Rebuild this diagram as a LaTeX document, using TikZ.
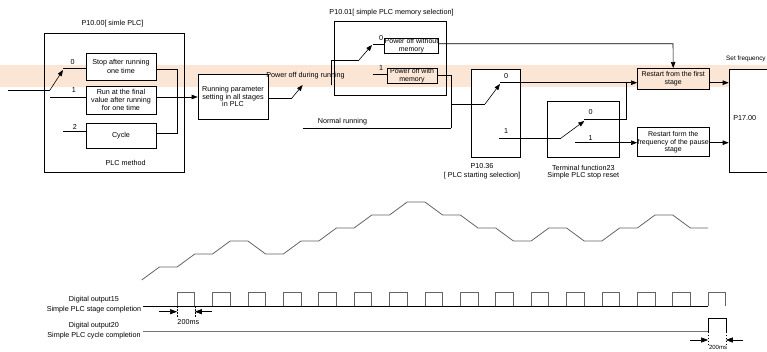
\documentclass[tikz,border=0pt]{standalone}
\usepackage{fontspec}
\setmainfont{Liberation Sans}
\usetikzlibrary{arrows.meta}
\definecolor{band}{RGB}{251,229,213}
\definecolor{wavegray}{RGB}{100,100,100}
\begin{document}
\begin{tikzpicture}[x=1pt,y=-1pt,
  ln/.style={line width=0.6pt},
  arr/.style={ln,-{Triangle[length=6pt,width=4.5pt]}},
  dimarr/.style={ln,-{Triangle[length=7pt,width=5pt]}},
  frame/.style={draw,ln,inner sep=0pt},
  box/.style={draw,ln,fill=white,inner sep=0pt,align=center,font=\fontsize{7.2}{8.2}\selectfont},
  sbox/.style={draw,ln,inner sep=0pt,align=center,font=\fontsize{7.0}{7.4}\selectfont},
  txt/.style={inner sep=0pt,align=center,font=\fontsize{7.2}{8}\selectfont},
  wave/.style={line width=0.8pt,draw=wavegray},
  pulse/.style={line width=0.8pt,draw=wavegray},
  dimline/.style={line width=0.5pt,dashed,dash pattern=on 1.5pt off 1.5pt}
]
\useasboundingbox (0,0) rectangle (767,351);
\fill[band] (0,65) rectangle (767,87);

% ---------- nodes ----------
\node[frame,minimum width=140pt,minimum height=139pt] (plcm) at (114,102.5) {};
\node[txt] (t1000) at (112.5,24) {P10.00[ simle PLC]};
\node[txt] (plcmt) at (125.7,163) {PLC method};
\node[box,minimum width=70pt,minimum height=27pt] (stop) at (121,66.5) {Stop after running\\one time};
\node[box,minimum width=70pt,minimum height=28pt] (runfin) at (121,100) {Run at the final\\value after running\\for one time};
\node[box,minimum width=70pt,minimum height=25pt] (cycle) at (121,135.5) {Cycle};
\node[box,minimum width=70pt,minimum height=45pt,font=\fontsize{7.2}{7.4}\selectfont] (rps) at (233,96.5) {Running parameter\\setting in all stages\\in PLC};
\node[txt] (pdr) at (305.5,75.7) {Power off during running};
\node[frame,minimum width=112pt,minimum height=74pt] (memsel) at (390,58) {};
\node[txt] (t1001) at (391.5,13) {P10.01[ simple PLC memory selection]};
\node[sbox,minimum width=51pt,minimum height=15pt] (pwo) at (411.5,45.5) {Power off without\\memory};
\node[sbox,minimum width=50pt,minimum height=15pt] (pwm) at (412,75.5) {Power off with\\memory};
\node[txt] (nrt) at (342.5,121.7) {Normal running};
\node[box,minimum width=49pt,minimum height=88pt] (p1036) at (495.5,113) {};
\node[txt] (p1036t) at (482,166) {P10.36};
\node[txt] (p1036s) at (482,176) {[ PLC starting selection]};
\node[frame,minimum width=71.7pt,minimum height=56.3pt] (term) at (583.2,129.2) {};
\node[txt] (termt) at (583.3,167.7) {Terminal function23};
\node[txt] (terms) at (583.3,175.7) {Simple PLC stop reset};
\node[sbox,fill=band,minimum width=71.7pt,minimum height=21pt] (rfirst) at (673.2,78.8) {Restart from the first\\stage};
\node[sbox,fill=white,minimum width=71.7pt,minimum height=29pt] (rpause) at (673.2,142.2) {Restart form the\\frequency of the pause\\stage};
\node[frame,fill=white,minimum width=41pt,minimum height=103pt] (p1700) at (749.5,120.5) {};
\node[txt] (p1700t) at (744.7,118) {P17.00};
\node[txt,anchor=west,font=\fontsize{6.4}{7}\selectfont] (sf) at (726,59) {Set frequency};

% switch labels
\node[txt] (l0a) at (72.7,62.3) {0};
\node[txt] (l1a) at (74,90) {1};
\node[txt] (l2a) at (75,127.3) {2};
\node[txt] (l0b) at (381,38.3) {0};
\node[txt] (l1b) at (381,68.3) {1};
\node[txt] (l0c) at (506,76) {0};
\node[txt] (l1c) at (506,131) {1};
\node[txt] (l0d) at (590.7,111.7) {0};
\node[txt] (l1d) at (590.7,137.7) {1};

% ---------- coordinates ----------
\coordinate (inp) at (8,90);
\coordinate (sa) at (50,90);
\coordinate (sa0) at (63,70);
\coordinate (c0) at (63,68);
\coordinate (c1) at (50,97);
\coordinate (c2) at (63,131);
\coordinate (ja) at (177,69);
\coordinate (jb) at (177,133);
\coordinate (jr) at (177,97);
\coordinate (sb) at (291.7,98.3);
\coordinate (sb0) at (302.7,85);
\coordinate (mi) at (331,85);
\coordinate (mj) at (331,60);
\coordinate (sc) at (359,60);
\coordinate (sc0) at (372,45);
\coordinate (m0) at (373,44);
\coordinate (m1) at (373,74);
\coordinate (wo) at (673,43.7);
\coordinate (wm) at (451,75);
\coordinate (wj) at (451,104);
\coordinate (nr0) at (302.7,128.3);
\coordinate (nr1) at (451,128.3);
\coordinate (sd) at (485,104);
\coordinate (sd0) at (500,84);
\coordinate (q0) at (500,82.7);
\coordinate (q1) at (499,138.3);
\coordinate (se) at (560.7,138.3);
\coordinate (se0) at (584.3,121);
\coordinate (t0) at (584.3,119.3);
\coordinate (t0b) at (626,119.3);
\coordinate (t1) at (575,142.7);

% ---------- connectors ----------
\draw[ln] (inp) -- (sa);
\draw[arr] (sa) -- (sa0);
\draw[ln] (c0) -- (c0 -| stop.west);
\draw[ln] (c1) -- (c1 -| runfin.west);
\draw[ln] (c2) -- (c2 -| cycle.west);
\draw[ln] (ja -| stop.east) -- (ja) -- (jb) -- (jb -| cycle.east);
\draw[arr] (jr -| runfin.east) -- (jr -| rps.west);
\draw[ln] (sb -| rps.east) -- (sb);
\draw[arr] (sb) -- (sb0);
\draw[ln] (mi) -- (mj) -- (sc);
\draw[arr] (sc) -- (sc0);
\draw[ln] (m0) -- (m0 -| pwo.west);
\draw[ln] (m1) -- (m1 -| pwm.west);
\draw[arr] (wo -| pwo.east) -- (wo) -- (rfirst.north);
\draw[ln] (wm -| pwm.east) -- (wm) -- (nr1);
\draw[ln] (nr0) -- (nr1);
\draw[ln] (wj) -- (sd);
\draw[arr] (sd) -- (sd0);
\draw[arr] (q0) -- (q0 -| rfirst.west);
\draw[ln] (q1) -- (se);
\draw[arr] (se) -- (se0);
\draw[ln] (t0) -- (t0b) -- (t0b |- q0);
\draw[arr] (t1) -- (t1 -| rpause.west);
\draw[arr] (q0 -| rfirst.east) -- (q0 -| p1700.west);
\draw[arr] (t1 -| rpause.east) -- (t1 -| p1700.west);

% ---------- timing diagram ----------
\draw[wave] (141.7,280) -- (159.4,267) -- (177.1,267) -- (194.8,254) -- (212.5,254)
  -- (230.2,241) -- (247.9,241) -- (265.6,254) -- (283.3,254) -- (301.0,241)
  -- (318.7,241) -- (336.4,228) -- (354.1,228) -- (371.8,215) -- (389.5,215)
  -- (407.2,202) -- (424.9,202) -- (442.6,215) -- (460.3,215) -- (478.0,228)
  -- (495.7,228) -- (513.4,241) -- (531.1,241) -- (548.8,228) -- (566.5,228)
  -- (584.2,241) -- (601.9,241) -- (619.6,228) -- (637.3,228) -- (655.0,215)
  -- (672.7,215) -- (690.4,228) -- (708.1,228);

\node[txt] (do15) at (94,299.3) {Digital output15};
\node[txt] (do15b) at (94,310) {Simple PLC stage completion};
\node[txt] (do20) at (94,325.7) {Digital output20};
\node[txt] (do20b) at (94,335.7) {Simple PLC cycle completion};

\draw[ln] (143,306) -- (708.1,306);
\foreach \k in {0,...,15}
  \draw[pulse] ({177.1+35.4*\k},306) -- ++(0,-13.3) -- ++(17.7,0) -- ++(0,13.3);

\draw[line width=1.1pt,draw=black!55] (143,331.7) -- (708.1,331.7);
\draw[ln] (708.1,331.7) -- (708.1,318.3) -- (725.8,318.3) -- (725.8,331.7);

\draw[dimline] (177.1,306) -- (177.1,317);
\draw[dimline] (194.8,306) -- (194.8,317);
\draw[dimarr] (159.3,311.7) -- (177.1,311.7);
\draw[dimarr] (212.3,311.7) -- (194.8,311.7);
\node[txt] (ms1) at (188.3,321.7) {200ms};

\draw[dimline] (708.1,331.7) -- (708.1,346);
\draw[dimline] (725.8,331.7) -- (725.8,346);
\draw[dimarr] (690,340) -- (708.1,340);
\draw[dimarr] (743.3,340) -- (725.8,340);
\node[txt,font=\fontsize{6}{7}\selectfont] (ms2) at (718,347) {200ms};
\end{tikzpicture}
\end{document}
